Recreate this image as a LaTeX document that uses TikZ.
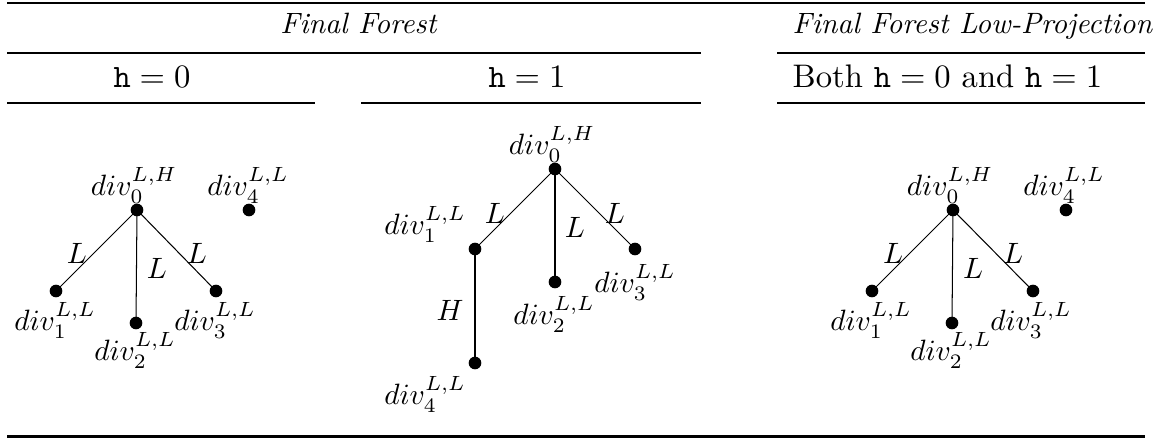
\documentclass[tikz,border=0pt]{standalone}
\begin{document}
\begin{tikzpicture}[x=0.34pt,y=-0.34pt,
  dot/.style={circle,fill=black,inner sep=0pt,minimum size=4.3pt},
  lbl/.style={inner sep=0pt},
  edge/.style={line width=0.35pt},
  heavy/.style={line width=0.8pt},
  light/.style={line width=0.45pt},
  head/.style={inner sep=0pt},
  subhead/.style={inner sep=0pt,scale=1.11}]
\useasboundingbox (0,0) rectangle (1154,439);
% rules
\draw[heavy] (7,3) -- (1145,3);
\draw[light] (7,53) -- (701,53);
\draw[light] (777,53) -- (1145,53);
\draw[light] (7,103) -- (315,103);
\draw[light] (361,103) -- (701,103);
\draw[light] (777,103) -- (1145,103);
\draw[heavy] (7,436.5) -- (1145,436.5);
% headers
\node[head,anchor=base] (ff) at (359,34) {\textit{Final Forest}};
\node[head,anchor=base west] (ffl) at (792,34) {\textit{Final Forest Low-Projection}};
\node[subhead,anchor=base] (h0) at (152,88) {$\mathtt{h}=0$};
\node[subhead,anchor=base] (h1) at (527,88) {$\mathtt{h}=1$};
\node[subhead,anchor=base west] (both) at (792,88) {Both $\mathtt{h}=0$ and $\mathtt{h}=1$};
% tree 1 (h=0)
\node[dot] (a0) at (137,210) {};
\node[dot] (a1) at (56,291) {};
\node[dot] (a2) at (136,323) {};
\node[dot] (a3) at (216,291) {};
\node[dot] (a4) at (249,210) {};
\node[lbl] (ta0) at (134,185) {$div_0^{L,H}$};
\node[lbl] (ta1) at (55,320) {$div_1^{L,L}$};
\node[lbl] (ta2) at (135,350) {$div_2^{L,L}$};
\node[lbl] (ta3) at (215,320) {$div_3^{L,L}$};
\node[lbl] (ta4) at (248,185) {$div_4^{L,L}$};
\draw[edge] (a0.center) -- (a1.center);
\draw[edge] (a0.center) -- (a2.center);
\draw[edge] (a0.center) -- (a3.center);
\node[lbl] (ea1) at (77,253) {$L$};
\node[lbl] (ea2) at (157,268) {$L$};
\node[lbl] (ea3) at (197,253) {$L$};
% tree 2 (h=1)
\node[dot] (b0) at (555,169) {};
\node[dot] (b1) at (475,249) {};
\node[dot] (b2) at (555,282) {};
\node[dot] (b3) at (635,249) {};
\node[dot] (b4) at (475,363) {};
\node[lbl] (tb0) at (552,144) {$div_0^{L,H}$};
\node[lbl] (tb1) at (425,224) {$div_1^{L,L}$};
\node[lbl] (tb2) at (554,314) {$div_2^{L,L}$};
\node[lbl] (tb3) at (635,282) {$div_3^{L,L}$};
\node[lbl] (tb4) at (425,394) {$div_4^{L,L}$};
\draw[edge] (b0.center) -- (b1.center);
\draw[edge] (b0.center) -- (b2.center);
\draw[edge] (b0.center) -- (b3.center);
\draw[edge] (b1.center) -- (b4.center);
\node[lbl] (eb1) at (495,213) {$L$};
\node[lbl] (eb2) at (575,227) {$L$};
\node[lbl] (eb3) at (615,213) {$L$};
\node[lbl] (eb4) at (450,310) {$H$};
% tree 3 (low projection)
\node[dot] (c0) at (953,210) {};
\node[dot] (c1) at (872,291) {};
\node[dot] (c2) at (952,323) {};
\node[dot] (c3) at (1033,291) {};
\node[dot] (c4) at (1066,210) {};
\node[lbl] (tc0) at (950,185) {$div_0^{L,H}$};
\node[lbl] (tc1) at (871,320) {$div_1^{L,L}$};
\node[lbl] (tc2) at (951,350) {$div_2^{L,L}$};
\node[lbl] (tc3) at (1031,320) {$div_3^{L,L}$};
\node[lbl] (tc4) at (1064,185) {$div_4^{L,L}$};
\draw[edge] (c0.center) -- (c1.center);
\draw[edge] (c0.center) -- (c2.center);
\draw[edge] (c0.center) -- (c3.center);
\node[lbl] (ec1) at (893,253) {$L$};
\node[lbl] (ec2) at (973,268) {$L$};
\node[lbl] (ec3) at (1013,253) {$L$};
\end{tikzpicture}
\end{document}
